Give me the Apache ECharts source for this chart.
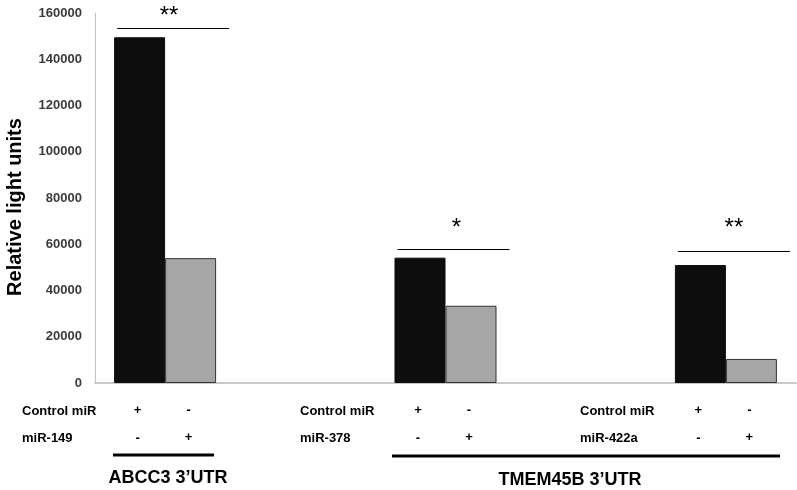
<!DOCTYPE html>
<html>
<head>
<meta charset="utf-8">
<script src="https://cdn.jsdelivr.net/npm/echarts@6/dist/echarts.min.js"></script>
<style>
  html, body { margin: 0; padding: 0; background: #fff; }
  #chart { width: 797px; height: 490px; }
</style>
</head>
<body>
<div id="chart"></div>
<script>
// data
var categories = ['ABCC3', '', 'TMEM45B-378', '', 'TMEM45B-422a'];
var controlValues = [149500, null, 54200, null, 51000];
var mirValues = [54000, null, 33400, null, 10400];
var mirNames = ['miR-149', 'miR-378', 'miR-422a'];
var stars = ['**', '*', '**'];
var yMax = 160000;
var yStep = 20000;

var FONT = 'Arial, "Liberation Sans", sans-serif';
var chart = echarts.init(document.getElementById('chart'));

var option = {
    animation: false,
    backgroundColor: '#fff',
    grid: { left: 95, right: 1, top: 13, bottom: 107, containLabel: false, outerBoundsMode: 'none' },
    xAxis: {
        type: 'category',
        data: categories,
        axisLine: { lineStyle: { color: '#c8c8c8', width: 2 } },
        axisTick: { show: false },
        axisLabel: { show: false }
    },
    yAxis: {
        type: 'value',
        min: 0,
        max: yMax,
        interval: yStep,
        name: 'Relative light units',
        nameLocation: 'middle',
        nameGap: 70,
        nameTextStyle: { fontFamily: FONT, fontSize: 20, fontWeight: 'bold', color: '#000', padding: [0, 18, 0, 0] },
        axisLine: { show: true, lineStyle: { color: '#c0c0c0', width: 1 } },
        axisTick: { show: false },
        splitLine: { show: false },
        axisLabel: {
            fontFamily: FONT, fontSize: 13, fontWeight: 'bold', color: '#3a3a3a', margin: 13,
            formatter: function (v) { return String(v); }
        }
    },
    series: [
        {
            name: 'Control miR',
            type: 'bar',
            barWidth: 51,
            barGap: '0%',
            data: controlValues,
            itemStyle: { color: '#0d0d0d', borderColor: '#0d0d0d', borderWidth: 1 }
        },
        {
            name: 'miR',
            type: 'bar',
            barWidth: 51,
            data: mirValues,
            itemStyle: { color: '#a6a6a6', borderColor: '#333', borderWidth: 1 }
        }
    ]
};
chart.setOption(option);

// annotations: table under the axis, group labels, significance marks
var groupIdx = [0, 2, 4];
var sigY = [28.5, 249.5, 251.5];
var starY = [12, 224, 224];
var gfx = [];
function txt(x, y, s, size, align, weight) {
    gfx.push({
        type: 'text', x: x, y: y, silent: true,
        style: { text: s, font: (weight || 'bold') + ' ' + size + 'px ' + FONT, fill: '#000',
                 textAlign: align || 'center', textVerticalAlign: 'middle', verticalAlign: 'middle' }
    });
}
function line(x1, y1, x2, y2, w) {
    gfx.push({ type: 'line', silent: true, shape: { x1: x1, y1: y1, x2: x2, y2: y2 },
               style: { stroke: '#000', lineWidth: w } });
}
groupIdx.forEach(function (ci, g) {
    var cx = chart.convertToPixel({ xAxisIndex: 0 }, ci);
    var left = cx - 25.5, right = cx + 25.5;
    var labelX = [22, 300, 580][g];
    txt(labelX, 411, 'Control miR', 13, 'left');
    txt(labelX, 438, mirNames[g], 13, 'left');
    txt(left - 2, 410, '+', 13);
    txt(right - 2, 410, '-', 13);
    txt(left - 2, 438, '-', 13);
    txt(right - 2, 437, '+', 13);
    line(cx - 48, sigY[g], cx + 64, sigY[g], 1);
    txt(cx + (g === 2 ? 8 : g === 1 ? 11 : 4), starY[g] + 4, stars[g], 24, 'center', 'normal');
});
line(113, 455, 214, 455, 3);
line(392, 456, 780, 456, 3);
txt(168, 478, 'ABCC3 3\u2019UTR', 18);
txt(570, 480, 'TMEM45B 3\u2019UTR', 18);

chart.setOption({ graphic: gfx });
</script>
</body>
</html>
